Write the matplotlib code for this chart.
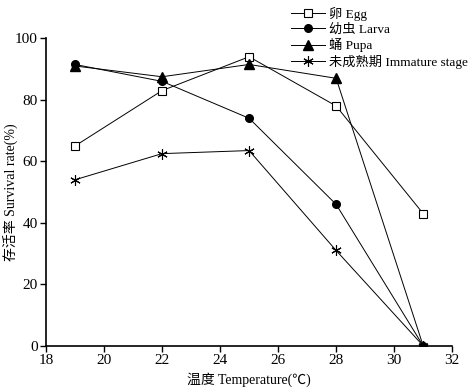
import matplotlib
matplotlib.use("Agg")
import matplotlib.pyplot as plt

plt.rcParams["font.family"] = ["Liberation Serif", "Noto Sans CJK SC"]

temps = [19, 22, 25, 28, 31]
egg = [65, 83, 94, 78, 43]
larva = [91.5, 86, 74, 46, 0]
pupa = [91, 87.5, 91.5, 87, 0]
immature = [54, 62.5, 63.5, 31, 0]

labels = ["卵 Egg", "幼虫 Larva", "蛹 Pupa", "未成熟期 Immature stage"]

fig = plt.figure(figsize=(4.72, 3.89), dpi=100)
ax = fig.add_axes([0.0975, 0.111, 0.8605, 0.7905])

line_kw = dict(color="black", linewidth=0.7)
ax.plot(temps, egg, marker="s", markersize=5.5, markerfacecolor="white",
        markeredgecolor="black", markeredgewidth=0.8, label=labels[0], **line_kw)
ax.plot(temps, larva, marker="o", markersize=5.5, markerfacecolor="black",
        label=labels[1], **line_kw)
ax.plot(temps, pupa, marker="^", markersize=6.5, markerfacecolor="black",
        label=labels[2], **line_kw)
ax.plot(temps, immature, marker=(6, 2, 0), markersize=7.5, markeredgewidth=0.8,
        label=labels[3], **line_kw)

ax.set_xlim(18, 32)
ax.set_ylim(0, 100)
ax.set_xticks(range(18, 33, 2))
ax.set_yticks(range(0, 101, 20))
ax.spines["top"].set_visible(False)
ax.spines["right"].set_visible(False)
ax.spines["left"].set_linewidth(1.2)
ax.spines["bottom"].set_linewidth(1.2)
ax.tick_params(direction="out", length=4, width=1, labelsize=11, pad=2)

ax.set_xlabel("温度 Temperature(℃)", fontsize=10)
ax.set_ylabel("存活率 Survival rate(%)", fontsize=10)
ax.xaxis.set_label_coords(0.5, -0.085)
ax.yaxis.set_label_coords(-0.07, 0.5)

ax.legend(loc="upper left", bbox_to_anchor=(0.59, 1.12), frameon=False,
          fontsize=9.5, handlelength=2.6, handletextpad=0.3,
          labelspacing=0.2, borderaxespad=0)

fig.savefig("out.png", dpi=100)
